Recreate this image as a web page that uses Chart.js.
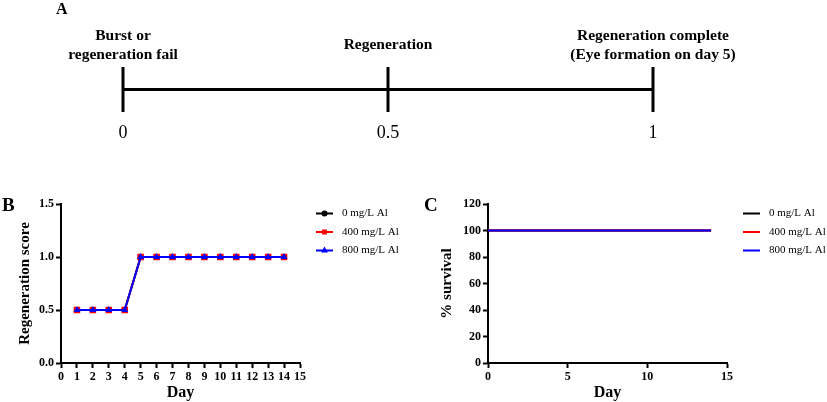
<!DOCTYPE html>
<html>
<head>
<meta charset="utf-8">
<script src="https://cdn.jsdelivr.net/npm/chart.js@4.4.1/dist/chart.umd.min.js"></script>
<style>
  html, body { margin: 0; padding: 0; background: #fff; }
  #wrap { position: relative; width: 827px; height: 402px; overflow: hidden; }
  canvas { position: absolute; }
</style>
</head>
<body>
<div id="wrap">
  <canvas id="chartA" width="827" height="150" style="left:0;top:0"></canvas>
  <canvas id="chartB" width="415" height="212" style="left:0;top:190px"></canvas>
  <canvas id="chartC" width="407" height="212" style="left:420px;top:190px"></canvas>
</div>
<script>
// panel A: regeneration scale
var stageValues = [0, 0.5, 1];
var stageTickLabels = ['0', '0.5', '1'];
var stageNames = [
  ['Burst or', 'regeneration fail'],
  ['Regeneration'],
  ['Regeneration complete', '(Eye formation on day 5)']
];

// shared series names
var seriesNames = ['0 mg/L Al', '400 mg/L Al', '800 mg/L Al'];

// panel B: regeneration score per day
var scoreDays = [1, 2, 3, 4, 5, 6, 7, 8, 9, 10, 11, 12, 13, 14];
var score0   = [0.5, 0.5, 0.5, 0.5, 1, 1, 1, 1, 1, 1, 1, 1, 1, 1];
var score400 = [0.5, 0.5, 0.5, 0.5, 1, 1, 1, 1, 1, 1, 1, 1, 1, 1];
var score800 = [0.5, 0.5, 0.5, 0.5, 1, 1, 1, 1, 1, 1, 1, 1, 1, 1];
var scoreTickLabels = ['0.0', '0.5', '1.0', '1.5'];

// panel C: % survival
var survivalDays = [0, 14];
var survival0   = [100, 100];
var survival400 = [100, 100];
var survival800 = [100, 100];

var SERIF = "'Liberation Serif', 'Times New Roman', serif";

function toPoints(xs, ys) {
  return xs.map(function(x, i) { return { x: x, y: ys[i] }; });
}

// text over the scale and the "A" tag
var stageTextPlugin = {
  id: 'stageText',
  afterDraw: function(chart) {
    var ctx = chart.ctx, xScale = chart.scales.x;
    var lineH = 19, centerY = chart.chartArea.top - 22;
    ctx.save();
    ctx.fillStyle = '#000';
    ctx.textBaseline = 'middle';
    ctx.font = 'bold 16px ' + SERIF;
    ctx.textAlign = 'left';
    ctx.fillText('A', 56, 10);
    ctx.font = 'bold 15.5px ' + SERIF;
    ctx.textAlign = 'center';
    stageNames.forEach(function(lines, i) {
      var x = xScale.getPixelForValue(stageValues[i]);
      var y0 = centerY - (lines.length - 1) * lineH / 2;
      lines.forEach(function(txt, j) {
        ctx.fillText(txt, x, y0 + j * lineH);
      });
    });
    ctx.restore();
  }
};

// legend on the right + panel letter
function sidePlugin(tag, tagX, legendX) {
  return {
    id: 'side' + tag,
    afterDraw: function(chart) {
      var ctx = chart.ctx;
      ctx.save();
      ctx.fillStyle = '#000';
      ctx.textBaseline = 'middle';
      ctx.textAlign = 'left';
      ctx.font = 'bold 19px ' + SERIF;
      ctx.fillText(tag, tagX, 16);
      ctx.font = '11px ' + SERIF;
      chart.data.datasets.forEach(function(ds, i) {
        var y = 23.5 + i * 18.5;
        ctx.strokeStyle = ds.borderColor;
        ctx.lineWidth = 2;
        ctx.beginPath();
        ctx.moveTo(legendX, y);
        ctx.lineTo(legendX + 17, y);
        ctx.stroke();
        if (ds.pointRadius > 0) {
          ctx.fillStyle = ds.pointBackgroundColor;
          ctx.strokeStyle = ds.pointBorderColor;
          Chart.helpers.drawPoint(ctx, {
            pointStyle: ds.pointStyle, rotation: 0, radius: 2, borderWidth: 1
          }, legendX + 8.5, y);
        }
        ctx.fillStyle = '#000';
        ctx.fillText(ds.label, legendX + 26, y);
      });
      ctx.restore();
    }
  };
}

function axis(extra, step) {
  var base = {
    type: 'linear',
    border: { display: true, color: '#000', width: 2 },
    grid: { drawOnChartArea: false, color: '#000', tickColor: '#000', tickLength: 5, tickWidth: 2 },
    ticks: { color: '#000', padding: 2, maxRotation: 0, autoSkip: false, stepSize: step,
             font: { family: SERIF, size: 12, weight: 'bold' } }
  };
  return Object.assign(base, extra);
}

function titleOpts(text, size, pad) {
  return { display: true, text: text, color: '#000', padding: pad,
           font: { family: SERIF, size: size, weight: 'bold' } };
}

var common = {
  responsive: false,
  animation: false,
  events: [],
  plugins: { legend: { display: false }, tooltip: { enabled: false } }
};

// ---- A
new Chart(document.getElementById('chartA'), {
  type: 'scatter',
  data: {
    datasets: [{
      data: stageValues.map(function(v) { return { x: v, y: 0 }; }),
      showLine: true,
      borderColor: '#000',
      borderWidth: 3,
      pointStyle: 'line',
      rotation: 90,
      pointRadius: 22.5,
      pointHoverRadius: 22.5,
      pointBorderColor: '#000',
      pointBorderWidth: 3,
      clip: false
    }]
  },
  options: Object.assign({}, common, {
    layout: { padding: { left: 123, right: 174, top: 67, bottom: 0 } },
    scales: {
      x: {
        type: 'linear', min: 0, max: 1,
        afterBuildTicks: function(s) { s.ticks = stageValues.map(function(v) { return { value: v }; }); },
        afterFit: function(s) { s.height = 38; },
        grid: { display: false, drawTicks: false },
        border: { display: false },
        ticks: {
          color: '#000', padding: 10, maxRotation: 0, autoSkip: false,
          font: { family: SERIF, size: 18 },
          callback: function(v, i) { return stageTickLabels[i]; }
        }
      },
      y: { display: false, min: -1, max: 1 }
    }
  }),
  plugins: [stageTextPlugin]
});

// ---- B
var yB = axis({
  min: 0, max: 1.5,
  afterFit: function(s) { s.width = 61; },
  title: titleOpts('Regeneration score', 15, { top: 16, bottom: 0 })
}, 0.5);
yB.ticks.callback = function(v, i) { return scoreTickLabels[i]; };

new Chart(document.getElementById('chartB'), {
  type: 'scatter',
  data: {
    datasets: [
      { label: seriesNames[0], data: toPoints(scoreDays, score0), order: 3,
        showLine: true, borderColor: '#000000', borderWidth: 2,
        pointStyle: 'circle', pointRadius: 2, pointBackgroundColor: '#000000', pointBorderColor: '#000000' },
      { label: seriesNames[1], data: toPoints(scoreDays, score400), order: 2,
        showLine: true, borderColor: '#ff0000', borderWidth: 2,
        pointStyle: 'rect', pointRadius: 3.2, pointBackgroundColor: '#ff0000', pointBorderColor: '#ff0000' },
      { label: seriesNames[2], data: toPoints(scoreDays, score800), order: 1,
        showLine: true, borderColor: '#0000ff', borderWidth: 2,
        pointStyle: 'triangle', pointRadius: 2, pointBackgroundColor: '#0000ff', pointBorderColor: '#0000ff' }
    ]
  },
  options: Object.assign({}, common, {
    layout: { padding: { left: 0, right: 115, top: 14, bottom: 0 } },
    scales: {
      x: axis({
        min: 0, max: 15,
        afterFit: function(s) { s.height = 39; },
        title: titleOpts('Day', 16, { top: 0, bottom: 0 })
      }, 1),
      y: yB
    }
  }),
  plugins: [sidePlugin('B', 2, 316)]
});

// ---- C
new Chart(document.getElementById('chartC'), {
  type: 'scatter',
  data: {
    datasets: [
      { label: seriesNames[0], data: toPoints(survivalDays, survival0), order: 3,
        showLine: true, borderColor: '#000000', borderWidth: 2, pointRadius: 0 },
      { label: seriesNames[1], data: toPoints(survivalDays, survival400), order: 2,
        showLine: true, borderColor: '#ff0000', borderWidth: 2, pointRadius: 0 },
      { label: seriesNames[2], data: toPoints(survivalDays, survival800), order: 1,
        showLine: true, borderColor: '#0000ff', borderWidth: 2, pointRadius: 0 }
    ]
  },
  options: Object.assign({}, common, {
    layout: { padding: { left: 0, right: 100, top: 14, bottom: 0 } },
    scales: {
      x: axis({
        min: 0, max: 15,
        afterFit: function(s) { s.height = 39; },
        title: titleOpts('Day', 16, { top: 0, bottom: 0 })
      }, 5),
      y: axis({
        min: 0, max: 120,
        afterFit: function(s) { s.width = 68; },
        title: titleOpts('% survival', 15, { top: 18, bottom: 0 })
      }, 20)
    }
  }),
  plugins: [sidePlugin('C', 4, 323)]
});
</script>
</body>
</html>
